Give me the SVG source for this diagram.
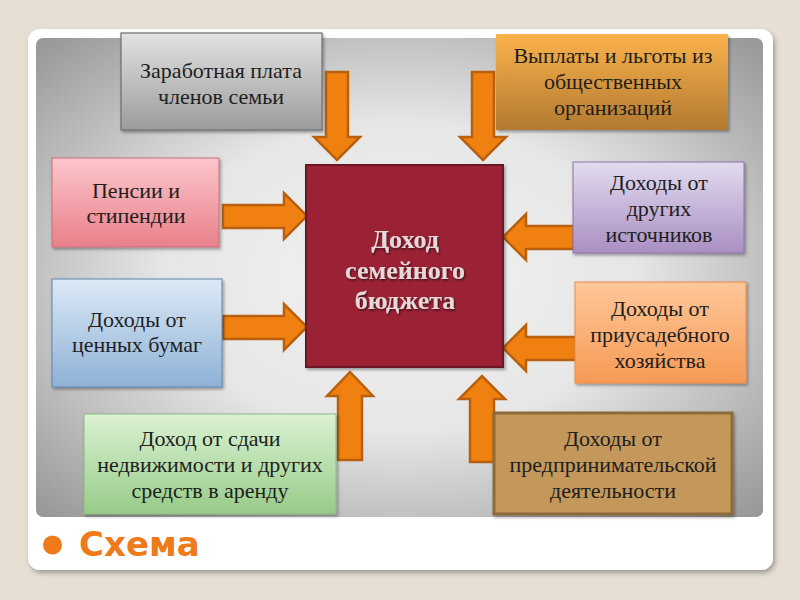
<svg xmlns="http://www.w3.org/2000/svg" width="800" height="600" viewBox="0 0 800 600">
<defs>
<radialGradient id="panel" cx="50%" cy="50%" r="72%">
<stop offset="0" stop-color="#f3f3f3"/>
<stop offset="0.45" stop-color="#e6e6e6"/>
<stop offset="1" stop-color="#939393"/>
</radialGradient>
<linearGradient id="gGray" x1="0" y1="0" x2="0" y2="1"><stop offset="0" stop-color="#e2e2e2"/><stop offset="1" stop-color="#9c9c9c"/></linearGradient>
<linearGradient id="gGold" x1="0" y1="0" x2="0" y2="1"><stop offset="0" stop-color="#fbb24c"/><stop offset="1" stop-color="#b27a30"/></linearGradient>
<linearGradient id="gPink" x1="0" y1="0" x2="0" y2="1"><stop offset="0" stop-color="#fdc6cc"/><stop offset="1" stop-color="#e8808a"/></linearGradient>
<linearGradient id="gBlue" x1="0" y1="0" x2="0" y2="1"><stop offset="0" stop-color="#dce9f6"/><stop offset="1" stop-color="#8eb1d6"/></linearGradient>
<linearGradient id="gGreen" x1="0" y1="0" x2="0" y2="1"><stop offset="0" stop-color="#dbf2d3"/><stop offset="1" stop-color="#97cb88"/></linearGradient>
<linearGradient id="gPurple" x1="0" y1="0" x2="0" y2="1"><stop offset="0" stop-color="#e3dbef"/><stop offset="1" stop-color="#a98fc3"/></linearGradient>
<linearGradient id="gPeach" x1="0" y1="0" x2="0" y2="1"><stop offset="0" stop-color="#ffc799"/><stop offset="1" stop-color="#f69a55"/></linearGradient>
<filter id="sh" x="-10%" y="-10%" width="130%" height="130%">
<feDropShadow dx="1.5" dy="2" stdDeviation="1.5" flood-color="#000" flood-opacity="0.35"/>
</filter>
<filter id="cardsh" x="-5%" y="-5%" width="110%" height="110%">
<feDropShadow dx="2" dy="3" stdDeviation="2.5" flood-color="#000" flood-opacity="0.3"/>
</filter>
<filter id="tsh" x="-10%" y="-10%" width="120%" height="130%">
<feDropShadow dx="1" dy="1.5" stdDeviation="0.8" flood-color="#000" flood-opacity="0.6"/>
</filter>
</defs>
<style>
.t{font-family:"Liberation Serif","Times New Roman",serif;font-size:22px;fill:#1e1e1e;text-anchor:middle}
.c{font-family:"Liberation Serif","Times New Roman",serif;font-size:26px;font-weight:bold;fill:#e6d9d9;text-anchor:middle}
.arr{fill:#f0800f;stroke:#b8600e;stroke-width:2.5;stroke-linejoin:miter}
.title{font-family:"DejaVu Sans",Verdana,sans-serif;font-size:34px;font-weight:bold;fill:#ee7a1a}
</style>
<rect width="800" height="600" fill="#e5dfd4"/>
<rect x="28" y="29" width="745" height="541" rx="12" fill="#ffffff" filter="url(#cardsh)"/>
<rect x="36" y="38" width="727" height="479" rx="7" fill="url(#panel)"/>

<g id="connectors">
<polygon class="arr" points="326,72 348,72 348,137 360,137 337,160 314,137 326,137"/>
<polygon class="arr" points="472,72 494,72 494,137 506,137 483,160 460,137 472,137"/>
<polygon class="arr" points="223,205 284,205 284,193 307,216 284,239 284,228 223,228"/>
<polygon class="arr" points="223,316 284,316 284,304 307,327 284,350 284,339 223,339"/>
<polygon class="arr" points="574,226 526,226 526,214 503,237 526,260 526,249 574,249"/>
<polygon class="arr" points="576,337 526,337 526,325 503,348 526,371 526,360 576,360"/>
<polygon class="arr" points="338,460 338,396 327,396 350,372 373,396 362,396 362,460"/>
<polygon class="arr" points="470,462 470,399 459,399 482,376 505,399 494,399 494,462"/>
</g>

<g id="center">
<rect x="306" y="165" width="197" height="202" fill="#9b2335" stroke="#6b1525" stroke-width="2" filter="url(#sh)"/>
<g filter="url(#tsh)">
<text class="c" x="405" y="248">Доход</text>
<text class="c" x="405" y="279">семейного</text>
<text class="c" x="405" y="309">бюджета</text>
</g>
</g>

<g id="n1">
<rect x="121" y="33" width="201" height="97" fill="url(#gGray)" stroke="#6e6e6e" stroke-width="1.2" filter="url(#sh)"/>
<text class="t" x="221" y="78">Заработная плата</text>
<text class="t" x="221" y="104">членов семьи</text>
</g>

<g id="n2">
<rect x="496" y="34" width="232" height="96" fill="url(#gGold)" filter="url(#sh)"/>
<text class="t" x="613" y="63">Выплаты и льготы из</text>
<text class="t" x="613" y="89">общественных</text>
<text class="t" x="613" y="115">организаций</text>
</g>

<g id="n3">
<rect x="52" y="158" width="167" height="89" fill="url(#gPink)" stroke="#c8707c" stroke-width="1" filter="url(#sh)"/>
<text class="t" x="136" y="198">Пенсии и</text>
<text class="t" x="136" y="223">стипендии</text>
</g>

<g id="n4">
<rect x="52" y="279" width="170" height="108" fill="url(#gBlue)" stroke="#5f86ad" stroke-width="1" filter="url(#sh)"/>
<text class="t" x="137" y="327">Доходы от</text>
<text class="t" x="137" y="352">ценных бумаг</text>
</g>

<g id="n5">
<rect x="84" y="414" width="252" height="100" fill="url(#gGreen)" stroke="#8cba80" stroke-width="1" filter="url(#sh)"/>
<text class="t" x="210" y="446">Доход от сдачи</text>
<text class="t" x="210" y="472">недвижимости и других</text>
<text class="t" x="210" y="498">средств в аренду</text>
</g>

<g id="n6">
<rect x="573" y="162" width="171" height="91" fill="url(#gPurple)" stroke="#8a74a8" stroke-width="1" filter="url(#sh)"/>
<text class="t" x="659" y="190">Доходы от</text>
<text class="t" x="659" y="216">других</text>
<text class="t" x="659" y="242">источников</text>
</g>

<g id="n7">
<rect x="575" y="282" width="171" height="101" fill="url(#gPeach)" stroke="#ec8c48" stroke-width="1" filter="url(#sh)"/>
<text class="t" x="660" y="316">Доходы от</text>
<text class="t" x="660" y="342">приусадебного</text>
<text class="t" x="660" y="368">хозяйства</text>
</g>

<g id="n8">
<rect x="494" y="413" width="238" height="101" fill="#c4975a" stroke="#8c6a3a" stroke-width="3" filter="url(#sh)"/>
<text class="t" x="613" y="446">Доходы от</text>
<text class="t" x="613" y="472">предпринимательской</text>
<text class="t" x="613" y="498">деятельности</text>
</g>

<g id="title">
<circle cx="52.5" cy="545" r="9.5" fill="#ee7a1a"/>
<text class="title" x="79" y="556">Схема</text>
</g>
</svg>
